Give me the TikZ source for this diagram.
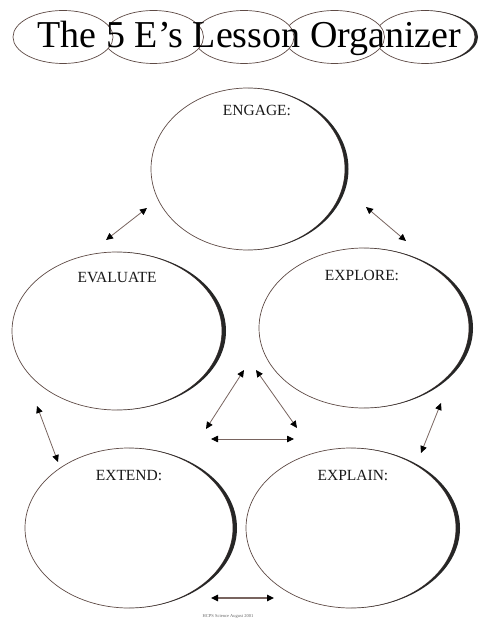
\documentclass[tikz,border=0pt]{standalone}
\usepackage{fontspec}
\setmainfont{Liberation Serif}
\usetikzlibrary{arrows.meta,shapes.geometric}
\definecolor{rim}{RGB}{95,75,70}
\definecolor{shaft}{RGB}{120,100,95}
\begin{document}
\begin{tikzpicture}[x=1pt,y=-1pt,
  lobe/.style={ellipse,draw=rim,fill=white,line width=0.7pt,inner sep=0pt,minimum width=100pt,minimum height=53pt},
  bubble/.style={ellipse,draw=rim,line width=0.7pt,inner sep=0pt},
  elabel/.style={anchor=base,font=\fontsize{15.5}{16}\selectfont,text=black!90},
  dbl/.style={{Triangle[length=7pt,width=6.5pt,color=black]}-{Triangle[length=7pt,width=6.5pt,color=black]},draw=shaft,line width=0.8pt},
  shadow/.style={fill=black!85}]
\useasboundingbox (0,0) rectangle (480,620);
\fill[white] (0,0) rectangle (480,620);
% title banner (drawn right to left so that right edges show)
\node[lobe] (t5) at (425,37) {};
\fill[shadow] (425,10.5) arc[start angle=-90,end angle=90,x radius=53,y radius=26.5] arc[start angle=90,end angle=-90,x radius=50,y radius=26.5] -- cycle;
\node[lobe] (t4) at (334.5,37) {};
\node[lobe] (t3) at (244,37) {};
\node[lobe] (t2) at (153.5,37) {};
\node[lobe] (t1) at (63,37) {};
\node[anchor=base,font=\fontsize{38}{40}\selectfont] (title) at (249.5,48) {The 5 E’s Lesson Organizer};
% bubbles
\node[bubble,minimum width=194pt,minimum height=162pt] (engage) at (248,169) {};
\node[bubble,minimum width=210pt,minimum height=158pt] (evaluate) at (117,331) {};
\node[bubble,minimum width=210pt,minimum height=160pt] (explore) at (364,328) {};
\node[bubble,minimum width=208pt,minimum height=160pt] (extend) at (129,528) {};
\node[bubble,minimum width=210pt,minimum height=160pt] (explain) at (351,528) {};
% shadows on right sides
\fill[shadow] (248,88) arc[start angle=-90,end angle=90,x radius=100.5,y radius=81] arc[start angle=90,end angle=-90,x radius=97,y radius=81] -- cycle;
\fill[shadow] (117,252) arc[start angle=-90,end angle=90,x radius=109,y radius=79] arc[start angle=90,end angle=-90,x radius=105,y radius=79] -- cycle;
\fill[shadow] (364,248) arc[start angle=-90,end angle=90,x radius=109,y radius=80] arc[start angle=90,end angle=-90,x radius=105,y radius=80] -- cycle;
\fill[shadow] (129,448) arc[start angle=-90,end angle=90,x radius=108,y radius=80] arc[start angle=90,end angle=-90,x radius=104,y radius=80] -- cycle;
\fill[shadow] (351,448) arc[start angle=-90,end angle=90,x radius=109,y radius=80] arc[start angle=90,end angle=-90,x radius=105,y radius=80] -- cycle;
% labels
\node[elabel] (lengage) at (257,116) {ENGAGE:};
\node[elabel] (levaluate) at (117,282) {EVALUATE};
\node[elabel] (lexplore) at (362,280) {EXPLORE:};
\node[elabel] (lextend) at (129,480) {EXTEND:};
\node[elabel] (lexplain) at (353,480) {EXPLAIN:};
% arrow end points
\coordinate (a1s) at (106,240); \coordinate (a1e) at (147,208);
\coordinate (a2s) at (366,207); \coordinate (a2e) at (406,241);
\coordinate (a3s) at (37,406);  \coordinate (a3e) at (58,462);
\coordinate (a4s) at (441,403); \coordinate (a4e) at (421,453);
\coordinate (a5s) at (211,598); \coordinate (a5e) at (274,598);
\coordinate (c1) at (244,370); \coordinate (c2) at (206,429);
\coordinate (c3) at (256,370); \coordinate (c4) at (297,428);
\coordinate (c5) at (211,439); \coordinate (c6) at (294,439);
\draw[dbl] (a1s) -- (a1e);
\draw[dbl] (a2s) -- (a2e);
\draw[dbl] (a3s) -- (a3e);
\draw[dbl] (a4s) -- (a4e);
\draw[dbl,line width=1.2pt] (a5s) -- (a5e);
\draw[dbl] (c1) -- (c2);
\draw[dbl] (c3) -- (c4);
\draw[dbl] (c5) -- (c6);
% footer
\node[font=\fontsize{4.5}{5}\selectfont,text=black!60] (footer) at (228,616) {HCPS Science August 2001};
\end{tikzpicture}
\end{document}
